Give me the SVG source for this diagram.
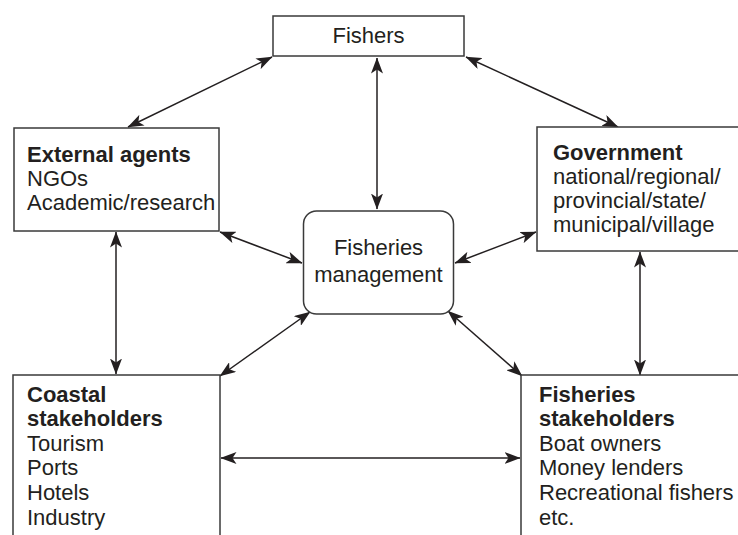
<svg xmlns="http://www.w3.org/2000/svg" width="738" height="535" viewBox="0 0 738 535">
  <style>
    .box { fill: #ffffff; stroke: #3a3a3a; stroke-width: 1.5; }
    .t { font-family: "Liberation Sans", Arial, Helvetica, sans-serif; font-size: 22px; fill: #231f20; }
    .b { font-weight: bold; }
    .link { stroke: #231f20; stroke-width: 1.5; fill: none; marker-start: url(#head); marker-end: url(#head); }
  </style>
  <defs>
    <!-- concave filled arrowhead, used at both ends of every link -->
    <marker id="head" viewBox="0 0 16 12" refX="15.5" refY="6" markerWidth="16" markerHeight="12" markerUnits="userSpaceOnUse" orient="auto-start-reverse">
      <path d="M0,0 L16,6 L0,12 L4,6 Z" fill="#231f20"/>
    </marker>
  </defs>

  <rect width="738" height="535" fill="#ffffff"/>

  <!-- connectors -->
  <g id="connectors">
    <line class="link" x1="272" y1="57" x2="128" y2="127"/>
    <line class="link" x1="466" y1="57" x2="618" y2="127"/>
    <line class="link" x1="377" y1="58" x2="377" y2="209"/>
    <line class="link" x1="220" y1="232" x2="302" y2="263"/>
    <line class="link" x1="536" y1="232" x2="455" y2="263"/>
    <line class="link" x1="310" y1="312" x2="220" y2="376"/>
    <line class="link" x1="448" y1="311" x2="522" y2="376"/>
    <line class="link" x1="116" y1="232" x2="116" y2="374"/>
    <line class="link" x1="640" y1="252" x2="640" y2="375"/>
    <line class="link" x1="221" y1="458" x2="520" y2="458"/>
  </g>

  <!-- Fishers -->
  <g id="fishers">
    <rect class="box" x="273" y="16" width="191" height="40"/>
    <text class="t" x="368.5" y="43" text-anchor="middle">Fishers</text>
  </g>

  <!-- External agents -->
  <g id="external-agents">
    <rect class="box" x="14" y="128" width="205" height="103"/>
    <text class="t" x="27" y="162"><tspan class="b">External agents</tspan><tspan x="27" dy="24">NGOs</tspan><tspan x="27" dy="24">Academic/research</tspan></text>
  </g>

  <!-- Government -->
  <g id="government">
    <rect class="box" x="537" y="127" width="210" height="124"/>
    <text class="t" x="553" y="160"><tspan class="b">Government</tspan><tspan x="553" dy="24">national/regional/</tspan><tspan x="553" dy="24">provincial/state/</tspan><tspan x="553" dy="24">municipal/village</tspan></text>
  </g>

  <!-- Fisheries management -->
  <g id="fisheries-management">
    <rect class="box" x="303.5" y="211" width="150" height="103" rx="13" ry="13"/>
    <text class="t" x="378.5" y="255" text-anchor="middle">Fisheries<tspan x="378.5" dy="26.5">management</tspan></text>
  </g>

  <!-- Coastal stakeholders -->
  <g id="coastal-stakeholders">
    <rect class="box" x="13" y="375" width="207" height="180"/>
    <text class="t" x="27" y="401.5"><tspan class="b">Coastal</tspan><tspan class="b" x="27" dy="24.6">stakeholders</tspan><tspan x="27" dy="24.6">Tourism</tspan><tspan x="27" dy="24.6">Ports</tspan><tspan x="27" dy="24.6">Hotels</tspan><tspan x="27" dy="24.6">Industry</tspan></text>
  </g>

  <!-- Fisheries stakeholders -->
  <g id="fisheries-stakeholders">
    <rect class="box" x="521" y="375" width="240" height="180"/>
    <text class="t" x="539" y="401.5"><tspan class="b">Fisheries</tspan><tspan class="b" x="539" dy="24.6">stakeholders</tspan><tspan x="539" dy="24.6">Boat owners</tspan><tspan x="539" dy="24.6">Money lenders</tspan><tspan x="539" dy="24.6">Recreational fishers</tspan><tspan x="539" dy="24.6">etc.</tspan></text>
  </g>
</svg>
